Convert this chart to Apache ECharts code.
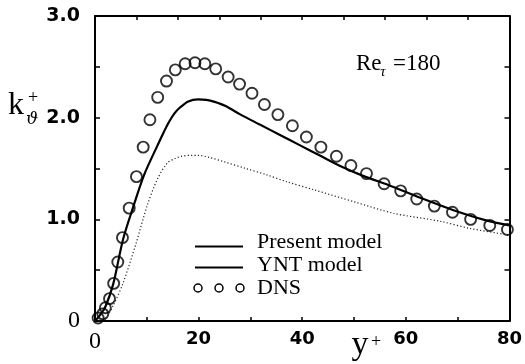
<!DOCTYPE html>
<html><head><meta charset="utf-8">
<script src="https://cdn.jsdelivr.net/npm/echarts@6/dist/echarts.min.js"></script>
<style>html,body{margin:0;padding:0;background:#fff}#c{width:525px;height:364px}</style>
</head><body><div id="c"></div>
<script>
// DNS data (circles)
const dnsX = [0.6, 1.5, 2.0, 2.8, 3.6, 4.4, 5.3, 6.6, 8.0, 9.3, 10.6, 12.1, 13.8, 15.5, 17.4, 19.3, 21.2, 23.3, 25.7, 27.9, 30.3, 32.7, 35.3, 38.1, 40.8, 43.6, 46.6, 49.4, 52.4, 55.8, 59.0, 62.1, 65.5, 69.0, 72.5, 76.2, 79.6];
const dnsY = [0.03, 0.07, 0.13, 0.22, 0.37, 0.58, 0.82, 1.11, 1.42, 1.71, 1.98, 2.20, 2.36, 2.47, 2.53, 2.54, 2.53, 2.48, 2.40, 2.33, 2.24, 2.13, 2.03, 1.92, 1.81, 1.71, 1.62, 1.53, 1.45, 1.35, 1.28, 1.20, 1.13, 1.07, 1.00, 0.94, 0.90];
// Present model (solid)
const presX = [0, 1, 2, 3.5, 5.4, 7.3, 9.5, 12.0, 13.2, 14.2, 15.3, 16.4, 18.0, 19.9, 21.5, 23.1, 25.2, 28.1, 31.9, 35.7, 39.5, 43.3, 47.1, 52.1, 56.5, 62.9, 69.2, 75.5, 80];
const presY = [0, 0.06, 0.14, 0.36, 0.80, 1.11, 1.44, 1.72, 1.85, 1.95, 2.04, 2.10, 2.16, 2.18, 2.175, 2.155, 2.115, 2.03, 1.93, 1.83, 1.73, 1.63, 1.53, 1.42, 1.34, 1.21, 1.09, 0.99, 0.94];
// YNT model (dotted)
const yntX = [0, 1, 2.2, 3.5, 5.4, 7.9, 10.1, 12.0, 13.9, 15.5, 16.7, 18.5, 19.9, 22.0, 25.0, 29.1, 33.0, 37.0, 42.3, 50.2, 57.6, 66.7, 72.4, 79.3, 80];
const yntY = [0, 0.01, 0.04, 0.15, 0.37, 0.76, 1.14, 1.39, 1.55, 1.60, 1.62, 1.63, 1.63, 1.61, 1.565, 1.50, 1.44, 1.37, 1.29, 1.17, 1.06, 0.98, 0.91, 0.85, 0.84];
// axis ticks
const xTicks = [0, 20, 40, 60, 80];
const yTicks = [0, 1, 2, 3];

const zip = (xs, ys) => xs.map((x, i) => [x, ys[i]]);
const chart = echarts.init(document.getElementById('c'), null, {renderer: 'canvas'});
const axisLine = {show: true, onZero: false, lineStyle: {color: '#000', width: 2}};
const serif = 'Liberation Serif';

const option = {
  animation: false,
  backgroundColor: '#fff',
  grid: {left: 95, right: 8, top: 16, bottom: 43},
  xAxis: [
    {type: 'value', min: 0, max: 80, interval: 10, position: 'bottom',
     axisLine: axisLine,
     axisTick: {show: true, inside: true, length: 4, lineStyle: {color: '#000', width: 1.5}},
     splitLine: {show: false},
     axisLabel: {margin: 9, color: '#000', fontFamily: 'DejaVu Sans', fontWeight: 'bold', fontSize: 18,
       formatter: v => xTicks.includes(v) ? (v === 0 ? '{z|0}' : String(v)) : '',
       rich: {z: {fontFamily: serif, fontSize: 24, color: '#000', fontWeight: 'normal'}}}},
    {type: 'value', min: 0, max: 80, interval: 8, position: 'top',
     axisLine: axisLine,
     axisTick: {show: true, inside: true, length: 4, lineStyle: {color: '#000', width: 1.5}},
     splitLine: {show: false}, axisLabel: {show: false}}
  ],
  yAxis: [
    {type: 'value', min: 0, max: 3, interval: 0.5, position: 'left',
     axisLine: axisLine,
     axisTick: {show: true, inside: true, length: 5, lineStyle: {color: '#000', width: 1.5}},
     splitLine: {show: false},
     axisLabel: {margin: 15, color: '#000', fontFamily: 'DejaVu Sans', fontWeight: 'bold', fontSize: 19,
       formatter: v => yTicks.includes(v) ? (v === 0 ? '{z|0}' : v.toFixed(1)) : '',
       rich: {z: {fontFamily: serif, fontSize: 24, color: '#000', fontWeight: 'normal'}}}},
    {type: 'value', min: 0, max: 3, interval: 0.5, position: 'right',
     axisLine: axisLine,
     axisTick: {show: true, inside: true, length: 5, lineStyle: {color: '#000', width: 1.5}},
     splitLine: {show: false}, axisLabel: {show: false}}
  ],
  series: [
    {name: 'Present model', type: 'line', data: zip(presX, presY), smooth: 0.3, showSymbol: false,
     lineStyle: {color: '#000', width: 2.2}},
    {name: 'YNT model', type: 'line', data: zip(yntX, yntY), smooth: 0.3, showSymbol: false,
     lineStyle: {color: '#222', width: 1.2, type: [1.2, 2.2]}},
    {name: 'DNS', type: 'scatter', data: zip(dnsX, dnsY), symbol: 'circle', symbolSize: 11,
     itemStyle: {color: 'rgba(0,0,0,0)', borderColor: '#000', borderWidth: 1.9}}
  ],
  graphic: [
    // y-axis title k_ϑ^+
    {type: 'text', x: 16, y: 106, style: {text: 'k', font: '32px "Liberation Serif"', fill: '#000', align: 'center', verticalAlign: 'middle'}},
    {type: 'text', x: 33, y: 98, style: {text: '+', font: '18px "Liberation Serif"', fill: '#000', align: 'center', verticalAlign: 'middle'}},
    {type: 'text', x: 32, y: 120, style: {text: 'ϑ', font: 'italic 17px "DejaVu Serif"', fill: '#000', align: 'center', verticalAlign: 'middle'}},
    // x-axis title y^+
    {type: 'text', x: 360, y: 345, style: {text: 'y', font: '34px "Liberation Serif"', fill: '#000', align: 'center', verticalAlign: 'middle'}},
    {type: 'text', x: 376, y: 342, style: {text: '+', font: '18px "Liberation Serif"', fill: '#000', align: 'center', verticalAlign: 'middle'}},
    // Re_tau = 180
    {type: 'text', x: 356, y: 64, style: {text: 'Re', font: '23px "Liberation Serif"', fill: '#000', align: 'left', verticalAlign: 'middle'}},
    {type: 'text', x: 383, y: 72, style: {text: 'τ', font: 'italic 15px "Liberation Serif"', fill: '#000', align: 'center', verticalAlign: 'middle'}},
    {type: 'text', x: 393, y: 64, style: {text: '=180', font: '23px "Liberation Serif"', fill: '#000', align: 'left', verticalAlign: 'middle'}},
    // legend
    {type: 'line', shape: {x1: 195, y1: 246.5, x2: 243, y2: 246.5}, style: {stroke: '#000', lineWidth: 2.2}},
    {type: 'line', shape: {x1: 195, y1: 267.5, x2: 243, y2: 267.5}, style: {stroke: '#000', lineWidth: 1.8}},
    {type: 'circle', shape: {cx: 198, cy: 288, r: 4}, style: {stroke: '#000', fill: 'none', lineWidth: 1.5}},
    {type: 'circle', shape: {cx: 219, cy: 288, r: 4}, style: {stroke: '#000', fill: 'none', lineWidth: 1.5}},
    {type: 'circle', shape: {cx: 240, cy: 288, r: 4}, style: {stroke: '#000', fill: 'none', lineWidth: 1.5}},
    {type: 'text', x: 257, y: 242, style: {text: 'Present model', font: '22px "Liberation Serif"', fill: '#000', align: 'left', verticalAlign: 'middle'}},
    {type: 'text', x: 257, y: 265, style: {text: 'YNT model', font: '22px "Liberation Serif"', fill: '#000', align: 'left', verticalAlign: 'middle'}},
    {type: 'text', x: 257, y: 288, style: {text: 'DNS', font: '22px "Liberation Serif"', fill: '#000', align: 'left', verticalAlign: 'middle'}}
  ]
};
chart.setOption(option);
</script></body></html>
